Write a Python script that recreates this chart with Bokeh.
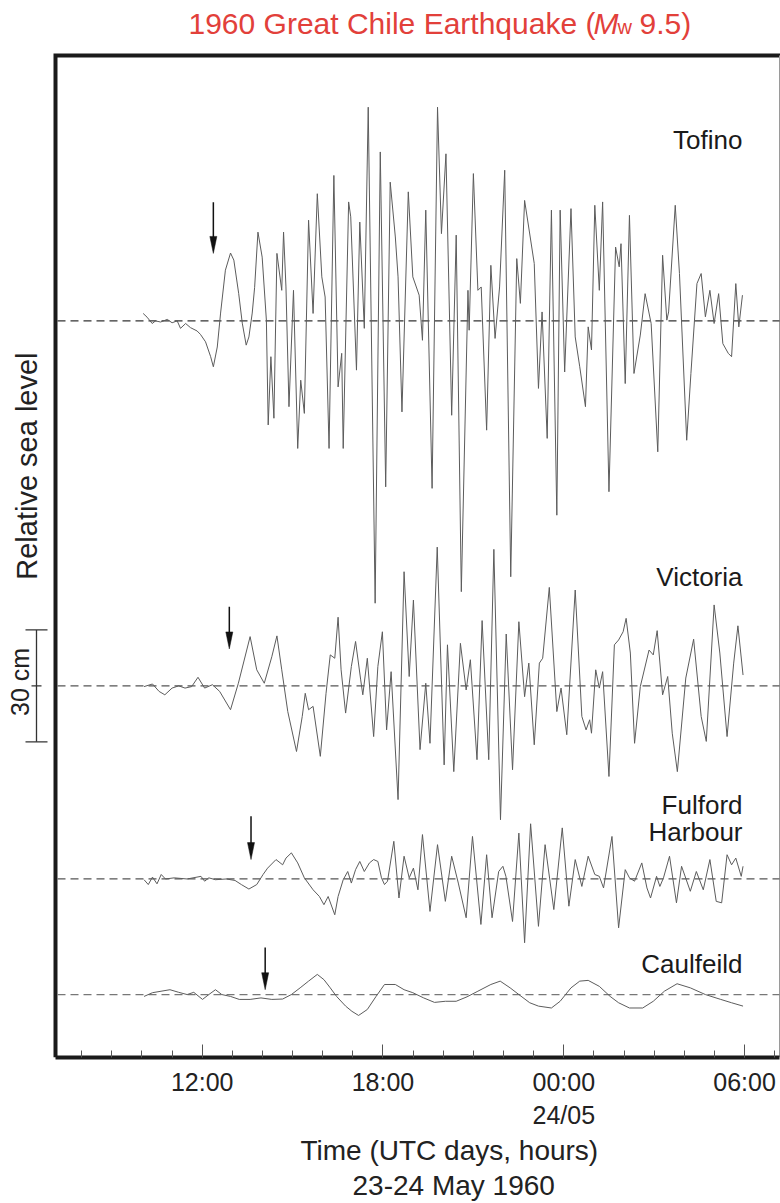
import numpy as np
from bokeh.plotting import figure
from bokeh.models import (Range1d, Label, FixedTicker, Arrow, TeeHead, Title)
from bokeh.embed import file_html
from bokeh.resources import INLINE

# ---------------- data (hours since 00:00 UTC 23 May 1960, sea level in cm) ----
stations = ["Tofino", "Victoria", "Fulford\nHarbour", "Caulfeild"]

tofino = [
    (10.04, 2.0), (10.17, 1.0), (10.34, -0.7), (10.45, 0.0), (10.62, -0.3), (10.84, 0.4),
    (11.00, -0.5), (11.17, 0.0), (11.28, -2.0), (11.45, -0.7), (11.61, -1.8), (11.83, -2.7),
    (11.94, -3.6), (12.11, -5.6), (12.28, -9.6), (12.37, -12.3), (12.50, -7.0), (12.61, 2.1),
    (12.77, 13.6), (12.94, 18.2), (13.05, 16.3), (13.21, 7.4), (13.33, -0.6), (13.46, -6.5),
    (13.55, -4.3), (13.66, 2.1), (13.74, 9.0), (13.85, 23.8), (13.99, 17.1), (14.13, 0.2),
    (14.19, -27.9), (14.28, -9.6), (14.38, -26.1), (14.48, 18.1), (14.64, 8.2), (14.70, 23.8),
    (14.78, 9.1), (14.88, -23.0), (15.03, 8.2), (15.17, -34.2), (15.27, -15.9), (15.39, -24.8),
    (15.53, 27.0), (15.68, 2.0), (15.82, 34.1), (15.97, 11.8), (16.08, 6.4), (16.21, -34.2),
    (16.37, 39.0), (16.51, -17.7), (16.63, -8.7), (16.68, -34.2), (16.86, 31.9), (16.93, 27.9),
    (17.12, -13.2), (17.23, 26.5), (17.38, -2.0), (17.51, 57.3), (17.74, -75.7), (17.91, 45.3),
    (18.09, -44.5), (18.24, 37.2), (18.41, 22.5), (18.50, 11.8), (18.63, -24.4), (18.84, 34.6),
    (18.99, 11.8), (19.20, 6.9), (19.31, -5.2), (19.42, 29.7), (19.63, -44.9), (19.81, 57.3),
    (19.94, 23.4), (20.09, 44.8), (20.28, -25.3), (20.43, 23.0), (20.60, -72.6), (20.82, 8.2),
    (20.86, -2.5), (21.00, 39.5), (21.15, 8.2), (21.26, 9.1), (21.44, -29.3), (21.58, 14.9),
    (21.72, -4.7), (21.87, 9.1), (22.04, 40.4), (22.24, -68.6), (22.44, 16.7), (22.56, 4.7),
    (22.70, 32.3), (23.02, 15.4), (23.16, -18.1), (23.28, 2.4), (23.45, -31.5), (23.59, 29.7),
    (23.77, -52.1), (23.88, 29.7), (24.03, -13.7), (24.24, 30.1), (24.38, -4.3), (24.53, -12.3),
    (24.72, -23.0), (24.81, -1.6), (24.92, -7.8), (25.03, 31.0), (25.18, 8.2), (25.29, 31.9),
    (25.50, -45.8), (25.72, 19.8), (25.84, 14.5), (25.90, 20.7), (26.04, -16.8), (26.18, 28.3),
    (26.33, -14.1), (26.54, -3.8), (26.70, 7.3), (26.90, -0.7), (27.12, -35.1), (27.28, 17.6),
    (27.42, 0.2), (27.48, 2.4), (27.70, 31.0), (27.84, 12.7), (28.08, -32.0), (28.22, -14.1),
    (28.42, 10.0), (28.56, 12.7), (28.70, 1.1), (28.85, 8.2), (28.99, -0.7), (29.14, 7.3),
    (29.28, -6.1), (29.46, -8.7), (29.57, -9.6), (29.71, 10.0), (29.81, -1.6), (29.93, 6.9),
]

victoria = [
    (10.07, -0.2), (10.35, 0.5), (10.57, -1.5), (10.76, -2.4), (11.00, -0.6), (11.22, 0.0),
    (11.43, -0.6), (11.65, -0.2), (11.86, 2.3), (12.08, -0.6), (12.34, 0.3), (12.58, -1.5),
    (12.94, -6.4), (13.20, 0.7), (13.59, 13.2), (13.81, 4.3), (14.06, 0.7), (14.31, 7.8),
    (14.48, 13.4), (14.64, 4.3), (14.84, -6.9), (15.13, -17.6), (15.32, -8.2), (15.42, -2.0),
    (15.53, -6.4), (15.68, -5.5), (15.92, -18.9), (16.11, -2.0), (16.25, 8.3), (16.40, 7.4),
    (16.51, 18.4), (16.61, 4.3), (16.76, -7.3), (16.95, 5.2), (17.09, 11.9), (17.26, 1.6),
    (17.33, -2.4), (17.48, 7.4), (17.69, -13.6), (17.83, 5.2), (17.98, 14.5), (18.12, -11.8),
    (18.27, 3.8), (18.50, -30.5), (18.70, 30.6), (18.87, 2.5), (19.01, 23.0), (19.23, -17.1),
    (19.42, 0.7), (19.56, -15.4), (19.80, 37.2), (20.03, -21.2), (20.14, 11.0), (20.35, -23.0),
    (20.57, 11.4), (20.76, -1.1), (20.90, 7.0), (21.12, -19.8), (21.29, 17.5), (21.51, -19.8),
    (21.68, 36.6), (21.90, -35.9), (22.09, 13.9), (22.30, -22.5), (22.51, 17.2), (22.70, -2.9),
    (22.84, 6.1), (23.02, -15.8), (23.19, 6.1), (23.30, 7.4), (23.52, 26.4), (23.77, -6.9),
    (23.91, -0.6), (24.10, -13.1), (24.38, 25.7), (24.60, -8.2), (24.74, -11.8), (24.86, -9.1),
    (24.92, -12.7), (25.06, 4.3), (25.18, -0.6), (25.29, 3.8), (25.50, -24.3), (25.68, 11.0),
    (25.82, 12.3), (25.97, 14.5), (26.07, 18.1), (26.21, 8.8), (26.35, -15.4), (26.54, -0.2),
    (26.83, 9.6), (26.97, 8.3), (27.10, 14.8), (27.28, -2.4), (27.45, 2.5), (27.60, -12.7),
    (27.77, -23.0), (28.05, 2.1), (28.31, 12.5), (28.56, -8.2), (28.73, -14.9), (28.99, 21.7),
    (29.18, 8.8), (29.42, -13.6), (29.64, 6.1), (29.78, 16.1), (29.95, 2.9),
]

fulford = [
    (10.07, -0.2), (10.21, -1.5), (10.35, 0.5), (10.50, -1.3), (10.64, 1.2), (10.78, 0.0),
    (11.07, 0.3), (11.50, 0.0), (11.96, 0.7), (12.08, -0.6), (12.22, 0.3), (12.44, -0.2),
    (12.80, 0.0), (13.09, -0.4), (13.30, -1.5), (13.55, -2.7), (13.81, -1.5), (14.02, 1.2),
    (14.17, 2.9), (14.45, 5.2), (14.67, 3.8), (14.78, 5.6), (14.96, 7.0), (15.17, 4.3),
    (15.39, 0.3), (15.68, -2.9), (15.89, -4.7), (16.04, -6.9), (16.18, -4.7), (16.40, -9.6),
    (16.51, -4.7), (16.68, -0.2), (16.83, 2.0), (16.95, -1.1), (17.09, 2.5), (17.23, 4.7),
    (17.38, 2.0), (17.55, 4.3), (17.69, 5.2), (17.83, 4.7), (17.95, 0.3), (18.05, -1.5),
    (18.15, -0.6), (18.36, 10.1), (18.53, -5.1), (18.70, 6.1), (18.87, 0.3), (19.01, 2.9),
    (19.16, -2.9), (19.31, 11.9), (19.56, -8.7), (19.81, 9.2), (20.07, -6.0), (20.28, 6.1),
    (20.50, -1.1), (20.76, -10.4), (20.97, 11.4), (21.25, -12.2), (21.44, 6.5), (21.62, -10.4),
    (21.84, 2.0), (21.98, 3.4), (22.08, 0.7), (22.30, -11.4), (22.51, 12.3), (22.70, -17.1),
    (22.90, 14.8), (23.16, -12.7), (23.38, 9.2), (23.67, -8.2), (23.95, 13.7), (24.17, -7.3),
    (24.38, 5.2), (24.60, -2.0), (24.81, 6.1), (25.03, 1.2), (25.18, 0.7), (25.32, -2.4),
    (25.60, 11.4), (25.82, -13.1), (26.04, 2.5), (26.18, 0.3), (26.35, -0.6), (26.59, 4.3),
    (26.76, -2.4), (26.88, -5.1), (27.08, 0.7), (27.19, -2.0), (27.31, 0.3), (27.51, 6.1),
    (27.74, -6.4), (27.91, 3.4), (28.20, -3.3), (28.40, 2.0), (28.63, -2.9), (28.85, 5.2),
    (29.06, -6.0), (29.24, -6.4), (29.42, 6.5), (29.57, 3.8), (29.71, 5.6), (29.89, 0.7),
    (29.95, 3.4),
]

caulfeild = [
    (10.07, -0.5), (10.35, 0.5), (10.93, 1.3), (11.22, 0.6), (11.50, 0.0), (11.72, 0.6),
    (12.01, -1.3), (12.22, 0.0), (12.44, 1.3), (12.65, 0.0), (12.94, -0.5), (13.23, -1.3),
    (13.59, -1.3), (13.95, -0.9), (14.31, -1.3), (14.67, -1.2), (14.96, 0.0), (15.25, 1.8),
    (15.53, 3.6), (15.82, 5.4), (16.04, 4.0), (16.25, 1.8), (16.46, -0.5), (16.76, -3.1),
    (16.97, -4.5), (17.19, -5.6), (17.48, -4.0), (17.77, -0.5), (18.05, 2.7), (18.41, 2.7),
    (18.70, 1.3), (18.99, 0.5), (19.35, -0.9), (19.71, -2.1), (20.07, -1.8), (20.43, -1.8),
    (20.79, -0.6), (21.15, 0.9), (21.58, 2.7), (21.89, 3.6), (22.22, 1.8), (22.51, 0.0),
    (22.87, -2.2), (23.16, -3.1), (23.59, -3.6), (23.88, -1.8), (24.24, 1.8), (24.53, 3.6),
    (24.81, 3.8), (25.18, 2.2), (25.54, -0.5), (25.82, -2.2), (26.18, -3.6), (26.62, -3.6),
    (26.97, -1.8), (27.34, 0.9), (27.76, 2.9), (28.20, 1.8), (28.70, 0.0), (29.21, -1.3),
    (29.57, -2.2), (29.95, -3.1),
]

arrival_hours = [12.37, 12.90, 13.62, 14.09]   # tsunami arrival arrows
hour_ticks = [12, 18, 24, 30]
hour_tick_labels = ["12:00", "18:00", "00:00\n24/05", "06:00"]
scale_bar_cm = 30

# ---------------- layout (pixels) ----------------
W, H = 780, 1203
BL, BR, BT, BB = 55, 779, 55, 1058      # the drawn box
PX_PER_H = (BR - BL) / (31.16 - 7.131)
PX_PER_CM = 3.733
XS = 7.131 - BL / PX_PER_H               # hour at canvas x = 0
XE = XS + W / PX_PER_H                   # hour at canvas x = 780
YE = BB / PX_PER_CM                      # frame spans canvas y 0..1058
base_py = [320.7, 686.0, 879.3, 995.0]


def hx(px):
    return XS + px / PX_PER_H


def vy(py):
    return (BB - py) / PX_PER_CM


offsets = [vy(b) for b in base_py]
FONT = "Liberation Sans"
INK = "#222222"

p = figure(width=W, height=H, x_range=Range1d(XS, XE), y_range=Range1d(0, YE),
           output_backend="svg", toolbar_location=None, y_axis_location=None,
           min_border_left=0, min_border_right=0, min_border_top=0,
           min_border_bottom=H - BB, outline_line_color=None,
           background_fill_color="white", border_fill_color="white")
p.xgrid.visible = False
p.ygrid.visible = False

# x axis (bounded to the box)
ax = p.xaxis[0]
ax.bounds = (hx(BL), hx(BR))
ax.ticker = FixedTicker(ticks=hour_ticks, minor_ticks=list(range(8, 32)))
ax.major_label_overrides = {t: l for t, l in zip(hour_ticks, hour_tick_labels)}
ax.axis_line_width = 4
ax.axis_line_color = "#1a1a1a"
ax.major_tick_in = 13
ax.major_tick_out = 0
ax.minor_tick_in = 7
ax.minor_tick_out = 0
ax.major_tick_line_color = "#555555"
ax.minor_tick_line_color = "#555555"
ax.major_label_text_font = FONT
ax.major_label_text_font_size = "25px"
ax.major_label_text_color = INK
ax.major_label_text_line_height = 1.2
ax.major_label_standoff = 10

# box: thick left and top, thin right
p.line([hx(BL), hx(BL), hx(W)], [vy(BB), vy(BT), vy(BT)], line_color="#1a1a1a",
       line_width=4, line_join="miter")
p.line([hx(BR), hx(BR)], [vy(BT), vy(BB)], line_color="#9a9a9a", line_width=1)

# baselines
base_colors = ["#333333", "#555555", "#555555", "#777777"]
for off, bc in zip(offsets, base_colors):
    p.line([hx(BL + 2), hx(BR)], [off, off], line_color=bc, line_width=1.3,
           line_dash="8 5")

# traces
for series, off in zip([tofino, victoria, fulford, caulfeild], offsets):
    t = [a for a, b in series]
    v = [b + off for a, b in series]
    p.line(t, v, line_color="#5c5c5c", line_width=1)

# arrival arrows
arrow_top = [31.8, 21.2, 16.8, 12.6]
arrow_tip = [18.1, 9.9, 5.2, 1.3]
head_len = 17 / PX_PER_CM
head_half = 3.5 / PX_PER_H
for a, off, top, tip in zip(arrival_hours, offsets, arrow_top, arrow_tip):
    p.segment(x0=[a], y0=[off + top], x1=[a], y1=[off + tip + head_len * 0.6],
              line_color="#111111", line_width=1.5)
    p.patches(xs=[[a - head_half, a + head_half, a]],
              ys=[[off + tip + head_len, off + tip + head_len, off + tip]],
              fill_color="#111111", line_color="#111111", line_width=0.5)


def label(px, py, text, size, align="left", baseline="middle", color=INK,
          style="normal", angle=0.0):
    p.add_layout(Label(x=hx(px), y=vy(py), text=text, text_font=FONT,
                       text_font_size=f"{size}px", text_color=color,
                       text_align=align, text_baseline=baseline,
                       text_font_style=style, angle=angle))


# station labels (vertical centre of the letters)
for txt, cpy in [("Tofino", 140.0), ("Victoria", 577.5), ("Fulford", 805.5),
                 ("Harbour", 832.5), ("Caulfeild", 964.0)]:
    label(742, cpy, txt, 26, align="right", color="#1a1a1a")

# title (mixed styles)
TITLE_RED = "#e2403a"
label(188, 23.0, "1960 Great Chile Earthquake (", 30, color=TITLE_RED)
label(593, 23.0, "M", 30, color=TITLE_RED, style="italic")
label(617, 26.5, "w", 20, color=TITLE_RED)
label(639, 23.0, "9.5)", 30, color=TITLE_RED)

# y label
label(26, 462, "Relative sea  level", 29, align="center", angle=np.pi / 2)

# 30 cm scale bar next to Victoria
p.add_layout(Arrow(x_start=hx(36), y_start=offsets[1] - scale_bar_cm / 2,
                   x_end=hx(36), y_end=offsets[1] + scale_bar_cm / 2,
                   line_color="#333333", line_width=1.3,
                   start=TeeHead(size=22, line_color="#333333", line_width=1.3),
                   end=TeeHead(size=22, line_color="#333333", line_width=1.3)))
p.segment(x0=[hx(31)], y0=[offsets[1]], x1=[hx(41)], y1=[offsets[1]],
          line_color="#333333", line_width=1.3)
label(19, 682, f"{scale_bar_cm} cm", 25, align="center", angle=np.pi / 2)

# texts under the axis
t1 = Title(text="Time (UTC days, hours)", align="left", offset=449 - 149,
           text_font=FONT, text_font_size="28px", text_font_style="normal",
           text_color=INK, standoff=0)
t2 = Title(text="23-24 May 1960", align="left", offset=453 - 101,
           text_font=FONT, text_font_size="28px", text_font_style="normal",
           text_color=INK, standoff=5)
p.add_layout(t1, "below")
p.add_layout(t2, "below")

open("out.html", "w").write(file_html(p, INLINE))
